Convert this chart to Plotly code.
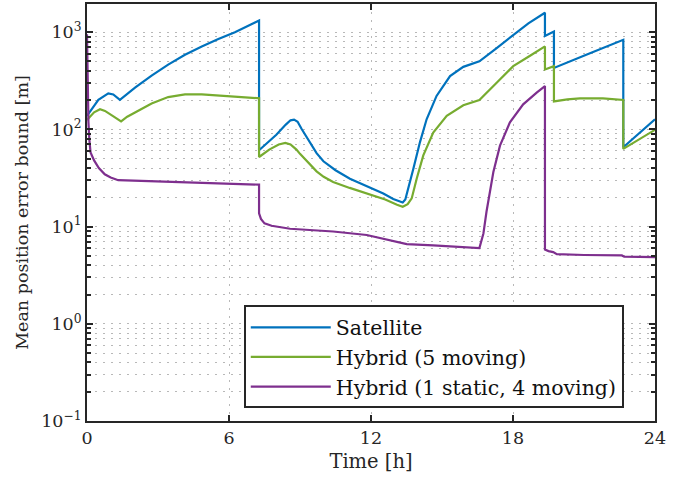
import plotly.graph_objects as go

# ---------------- data ----------------
sat_t = [0, 0.48, 0.9, 1.11, 1.39, 1.7, 2.03, 2.73, 3.43, 4.14, 4.85, 5.55, 6.25, 7.27,
         7.27, 7.6, 8.0, 8.4, 8.6, 8.75, 8.9, 9.07, 9.25, 9.42, 9.7, 9.99, 10.5, 11.11, 11.8,
         12.52, 12.94, 13.2, 13.34, 13.45, 13.58, 13.79, 14.07, 14.35, 14.77, 15.34, 15.9,
         16.58, 17.31, 18.01, 18.65, 19.35,
         19.35, 19.73, 19.73, 21.2, 22.66, 22.66, 24]
sat_v = [138, 201, 235, 229, 201, 232, 269, 358, 464, 586, 714, 849, 1000, 1318,
         61, 72, 88, 112, 124, 126, 120, 101, 85, 74, 57, 47, 38, 31.1, 26,
         21.9, 19.2, 18.0, 17.7, 19, 24.6, 39.4, 74, 127, 221, 353, 440,
         502, 687, 939, 1232, 1585,
         916, 1014, 429, 600, 835, 65.5, 127]

hyb_t = [0, 0.3, 0.55, 0.76, 1.1, 1.44, 1.7, 2.03, 2.73, 3.43, 4.14, 4.85, 5.97, 7.27,
         7.27, 7.7, 8.1, 8.38, 8.6, 8.85, 9.0, 9.35, 9.7, 10.0, 10.4, 11.1, 11.82, 12.6,
         13.1, 13.34, 13.55, 13.72, 13.93, 14.21, 14.63, 15.2, 15.9, 16.58, 17.31, 18.01,
         18.72, 19.35,
         19.35, 19.73, 19.73, 20.3, 20.83, 21.8, 22.66, 22.66, 24]
hyb_v = [125, 150, 161, 155, 137, 121, 135, 149, 185, 215, 229, 229, 221, 209,
         52, 62, 70, 72.5, 70, 62, 56, 45, 37, 32.5, 28.8, 25, 21.9, 19,
         16.8, 16.0, 17, 19.5, 31.1, 54, 93, 138, 177, 201, 302, 447,
         573, 714,
         413, 447, 194, 204, 208, 208, 201, 63, 99]

sta_t = [0, 0.03, 0.06, 0.1, 0.15, 0.3, 0.5, 0.75, 1.0, 1.32, 4.0, 7.27,
         7.27, 7.35, 7.5, 7.8, 8.58, 10.4, 11.82, 12.8, 13.51, 14.63, 16.58,
         16.75, 16.88, 17.17, 17.45, 17.87, 18.43, 19.0, 19.35,
         19.35, 19.5, 19.7, 19.85, 21.0, 22.6, 22.7, 24]
sta_v = [950, 300, 120, 78, 58, 48, 40, 34.5, 32, 30, 28.6, 27,
         13.7, 12, 10.8, 10.2, 9.5, 8.9, 8.2, 7.3, 6.6, 6.4, 6.0,
         8.5, 14.2, 36.4, 68, 118, 181, 239, 279,
         5.8, 5.6, 5.47, 5.2, 5.1, 5.05, 4.9, 4.85]

names = ["Satellite", "Hybrid (5 moving)", "Hybrid (1 static, 4 moving)"]
colors = ["#0072BD", "#77AC30", "#7E2F8E"]

x_ticks = [0, 6, 12, 18, 24]
y_ticks = [0.1, 1, 10, 100, 1000]
y_ticktext = ["10<sup>−1</sup>", "10<sup>0</sup>", "10<sup>1</sup>", "10<sup>2</sup>", "10<sup>3</sup>"]
y_minor = [m * 10.0 ** e for e in range(-1, 4) for m in range(2, 10)]

# ---------------- figure ----------------
FONT = "DejaVu Serif"
AX = "#262626"
GRID = "#b8b8b8"

fig = go.Figure()
for i, (t, v, n, c) in enumerate(zip([sat_t, hyb_t, sta_t], [sat_v, hyb_v, sta_v], names, colors)):
    fig.add_trace(go.Scatter(x=t, y=v, mode="lines", name=n, legendgroup=f"g{i}",
                             line=dict(color=c, width=2.2)))

fig.update_layout(
    width=688, height=484,
    margin=dict(l=87, r=33, t=2, b=63),
    paper_bgcolor="white", plot_bgcolor="white",
    font=dict(family=FONT, size=17.5, color=AX),
    showlegend=True,
    legend=dict(x=0.276, y=0.277, xanchor="left", yanchor="top",
                bgcolor="white", bordercolor=AX, borderwidth=2,
                font=dict(family=FONT, size=20.5, color="#111111"),
                itemwidth=80, tracegroupgap=0),
)

fig.update_xaxes(
    range=[0, 24], tickmode="array", tickvals=x_ticks,
    ticks="inside", ticklen=6, tickwidth=1.5, tickcolor=AX,
    showline=True, linewidth=2, linecolor=AX, mirror="allticks",
    showgrid=True, gridcolor=GRID, griddash="2px,6px", gridwidth=1.2,
    zeroline=False,
    title=dict(text="Time [h]", font=dict(family=FONT, size=19.5), standoff=7),
    tickfont=dict(family=FONT, size=17.5),
)

fig.update_yaxes(
    type="log", range=[-1, 3.29], tickmode="array", tickvals=y_ticks, ticktext=y_ticktext,
    ticks="inside", ticklen=6, tickwidth=1.5, tickcolor=AX,
    showline=True, linewidth=2, linecolor=AX, mirror="allticks",
    showgrid=True, gridcolor=GRID, griddash="2px,6px", gridwidth=1.2,
    zeroline=False,
    minor=dict(tickmode="array", tickvals=y_minor, ticks="inside", ticklen=4,
               tickwidth=1.5, tickcolor=AX, showgrid=True, gridcolor=GRID,
               griddash="2px,6px", gridwidth=1.2),
    title=dict(text="Mean position error bound [m]", font=dict(family=FONT, size=17.5), standoff=8),
    tickfont=dict(family=FONT, size=17.5),
)

fig.write_html("out.html")
